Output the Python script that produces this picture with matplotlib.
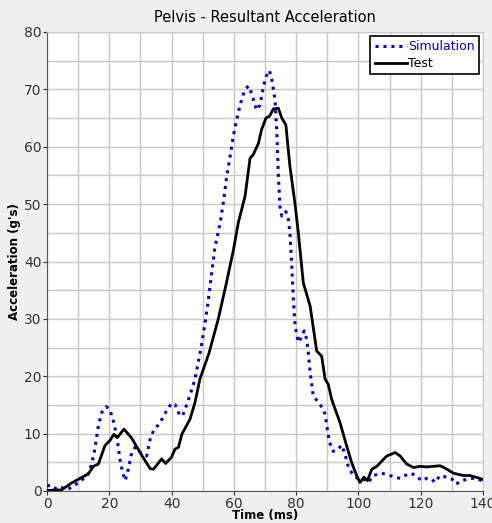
import matplotlib.pyplot as plt
import numpy as np

# Test (black, solid)
test_t = [0, 4.7, 7.9, 10.6, 13.3, 14.9, 16.5, 18.6, 20.2, 21.5,
          22.6, 24.7, 27.2, 29.9, 33.1, 34.2, 36.8, 38.1, 40, 41.1,
          42.2, 43.3, 45.9, 47.5, 49.1, 52, 55, 57.5, 59.9, 61.4,
          63.6, 65.2, 66.2, 67.9, 68.9, 70.3, 71.4, 72.7, 74.3, 75.4,
          76.7, 78.0, 79.6, 80.7, 82.3, 84.5, 86.6, 88.2, 89.3, 90.3,
          91.4, 92.5, 94.1, 96.2, 97.8, 99.4, 100.5, 101.8, 102.9, 104.3,
          105.9, 109.1, 111.8, 113.4, 115.5, 117.7, 119.8, 121.9, 126.2, 127.8,
          130.5, 133.7, 135.8, 139, 140]
test_g = [0.1, 0.2, 1.4, 2.2, 3.0, 4.3, 4.7, 7.9, 8.8, 9.9,
          9.3, 10.8, 9.2, 6.7, 3.9, 3.8, 5.6, 4.8, 5.9, 7.3,
          7.6, 9.9, 12.5, 15.4, 19.5, 24, 30, 36, 42.1, 46.7,
          51.4, 58.0, 58.6, 60.6, 63.0, 65.0, 65.3, 66.6, 66.7, 65.0,
          63.8, 56.6, 50.2, 45.0, 36.3, 32.2, 24.4, 23.5, 19.5, 18.6,
          16.0, 14.3, 11.9, 7.9, 5.0, 2.7, 1.5, 2.4, 1.8, 3.8,
          4.3, 6.1, 6.7, 6.1, 4.7, 4.1, 4.3, 4.2, 4.4, 4.0,
          3.1, 2.7, 2.7, 2.2, 2.0]

# Simulation (blue, dotted)
sim_t = [0, 1.5, 3.1, 4.7, 6.3, 8.5, 10.6, 12.7, 13.8, 15.1,
         16.5, 17.6, 19.0, 20.2, 21.3, 22.4, 23.4, 24.3, 25.1, 26.1,
         27.2, 28.3, 29.0, 32.0, 33.1, 34.2, 36.3, 38.4, 40.0, 41.1,
         42.7, 43.6, 44.9, 46.5, 47.5, 49.5, 51.5, 53.9, 55.6, 56.6,
         57.7, 58.8, 59.8, 60.9, 62.0, 63.3, 64.6, 65.7, 67.3, 68.4,
         69.5, 70.3, 71.4, 72.2, 73.2, 73.8, 74.3, 74.8, 75.4, 76.7,
         77.5, 78.0, 78.6, 79.1, 79.6, 80.2, 80.9, 81.7, 82.6, 83.4,
         83.9, 84.5, 85.5, 87.7, 89.3, 90.0, 90.7, 91.9, 93.5, 94.6,
         95.7, 96.8, 98.4, 100.0, 101.6, 103.2, 104.8, 107.5, 110.1, 111.8,
         113.4, 115.0, 116.6, 118.2, 120.3, 121.9, 123.5, 124.6, 126.2, 128.4,
         130.0, 131.3, 133.2, 135.8, 138.0, 140]
sim_g = [0.9, 1.0, 0.3, 0.6, 0.2, 0.8, 1.8, 2.4, 3.8, 6.4,
         11.4, 13.7, 14.7, 14.2, 12.2, 9.6, 5.6, 3.2, 1.8, 3.8,
         6.7, 7.6, 7.0, 6.1, 9.0, 10.5, 11.9, 14.0, 15.3, 15.1,
         13.1, 13.2, 15.1, 17.7, 19.5, 25, 32, 42.4, 46.7, 50.2,
         54.8, 58.3, 61.8, 64.7, 67.3, 69.6, 70.6, 69.3, 66.4, 67.3,
         70.5, 72.2, 73.3, 71.7, 68.2, 62.4, 54.8, 49.6, 47.9, 48.7,
         47.3, 45.0, 39.2, 33.4, 29.3, 27.0, 25.9, 27.0, 27.9, 26.4,
         24.1, 20.6, 16.6, 15.1, 13.4, 10.8, 8.5, 6.9, 7.3, 8.0,
         6.4, 4.1, 2.7, 2.1, 2.1, 1.5, 2.7, 3.1, 2.7, 2.4,
         2.2, 2.7, 3.1, 2.8, 1.8, 2.2, 2.1, 1.5, 2.7, 2.4,
         2.1, 1.2, 1.8, 2.2, 2.2, 1.7]

x_ticks = np.arange(0, 141, 20)
y_ticks = np.arange(0, 81, 10)

bg = '#f0f0f0'
fig = plt.figure(figsize=(4.92, 5.23), dpi=100, facecolor=bg)
ax = fig.add_axes([47/492, 32/523, 436/492, 459/523])
ax.set_facecolor('white')

ax.plot(sim_t, sim_g, color='#0000cc', linestyle=(0, (1, 1.6)), linewidth=2.2, label='Simulation', zorder=3)
ax.plot(test_t, test_g, color='black', linewidth=2, label='Test', zorder=4)

ax.set_xlim(0, 140)
ax.set_ylim(0, 80)
ax.set_xticks(x_ticks)
ax.set_yticks(y_ticks)
ax.set_xticks(np.arange(0, 141, 10), minor=True)
ax.set_yticks(np.arange(0, 81, 5), minor=True)
ax.grid(which='both', color='#c8c8c8', linewidth=1)
ax.set_axisbelow(True)
ax.tick_params(which='major', length=3, labelsize=10, colors='#333333', pad=1)
ax.tick_params(which='minor', length=0)
for s in ['top', 'right']:
    ax.spines[s].set_color('#c8c8c8')
for s in ['left', 'bottom']:
    ax.spines[s].set_color('#555555')

ax.set_title('Pelvis - Resultant Acceleration', fontsize=10.5, pad=7)
ax.set_xlabel('Time (ms)', fontsize=8.5, fontweight='bold', labelpad=-1)
ax.set_ylabel("Acceleration (g's)", fontsize=8.5, fontweight='bold', labelpad=2)

leg = ax.legend(loc='upper right', fontsize=9, fancybox=False, framealpha=1,
                edgecolor='black', handlelength=2.6, handletextpad=0.1,
                borderpad=0.35, labelspacing=0.3, borderaxespad=0.3)
leg.get_frame().set_linewidth(1.2)
leg.get_texts()[0].set_color('#0000cc')

fig.savefig('out.png', dpi=100, facecolor=bg)
